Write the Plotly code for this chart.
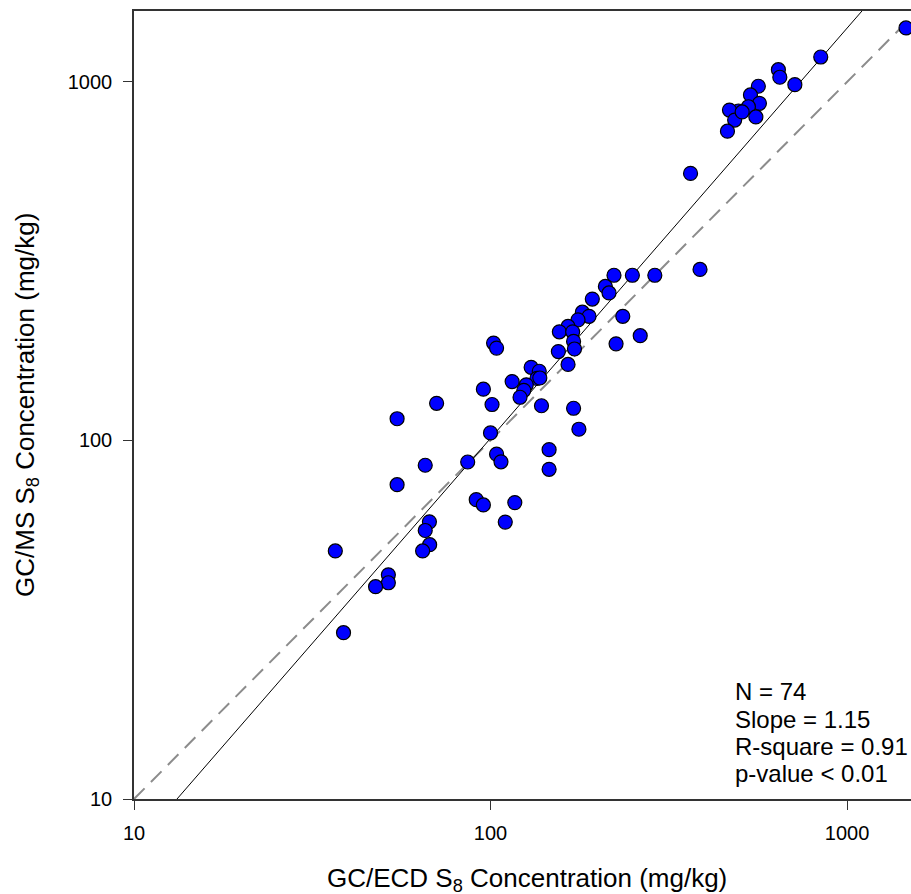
import numpy as np
import plotly.graph_objects as go

# GC/ECD (x) vs GC/MS (y) S8 concentrations, mg/kg
gc_ecd = [1464, 844, 642, 648, 714, 564, 536, 568, 529, 496, 468, 484, 555, 462, 364,
          222, 250, 289, 387, 210, 215, 193, 181, 189, 176, 165, 156, 170, 171, 172,
          155, 165, 235, 263, 225, 102, 104, 130, 137, 135, 115, 126, 124, 121, 95.5,
          101, 139, 171, 177, 70.6, 54.7, 100, 86.3, 104, 107, 146, 146, 65.6, 54.7,
          91.2, 95.5, 117, 110, 67.4, 65.6, 67.5, 64.5, 36.7, 51.7, 51.7, 47.6, 38.7,
          137.5, 508]
gc_ms = [1415, 1174, 1082, 1031, 983, 973, 920, 872, 853, 830, 835, 783, 799, 729, 556,
         289, 289, 289, 300, 269, 258, 248, 228, 222, 217, 208, 201, 201, 189, 180,
         177, 163, 222, 196, 186, 187, 181, 160, 156, 149, 146, 143, 138, 132, 139,
         126, 125, 123, 107.5, 127, 115, 105, 87.1, 91.6, 87.2, 94.3, 83.1, 85.3, 75.3,
         68.4, 66.1, 67.1, 59.2, 59.3, 56.1, 51.2, 49.2, 49.2, 42.2, 40.1, 39.1, 29.1,
         149.4, 825]

# fitted regression line in log10 space (as drawn)
fit_slope = 1.144
fit_intercept = -0.282
line_x = [10, 1600]

stats_text = ["N = 74", "Slope = 1.15", "R-square = 0.91", "p-value < 0.01"]
tick_vals = [10, 100, 1000]
tick_text = ["10", "100", "1000"]

FONT = "Liberation Sans, Arial, sans-serif"

fit_y = [10 ** (fit_intercept + fit_slope * np.log10(v)) for v in line_x]

fig = go.Figure()
fig.add_trace(go.Scatter(x=line_x, y=line_x, mode="lines",
                         line=dict(color="#8c8c8c", width=2, dash="15px,9px"),
                         showlegend=False, hoverinfo="skip"))
fig.add_trace(go.Scatter(x=line_x, y=fit_y, mode="lines",
                         line=dict(color="black", width=1),
                         showlegend=False, hoverinfo="skip"))
fig.add_trace(go.Scatter(x=gc_ecd, y=gc_ms, mode="markers",
                         marker=dict(color="#0000ff", size=14,
                                     line=dict(color="black", width=1.2)),
                         showlegend=False))

axis_common = dict(
    type="log", showgrid=False, zeroline=False,
    showline=True, linecolor="#333333", linewidth=1.5,
    ticks="outside", ticklen=9, tickwidth=1.2, tickcolor="#333333",
    tickvals=tick_vals, ticktext=tick_text,
    tickfont=dict(family=FONT, size=20, color="black"),
)

fig.update_layout(
    width=911, height=894,
    margin=dict(l=134, r=0, t=11, b=95),
    paper_bgcolor="white", plot_bgcolor="white",
    xaxis=dict(range=[1, 3.1795], mirror=True, ticklabelstandoff=6, **axis_common),
    yaxis=dict(range=[1, 3.198], ticklabelstandoff=7, **axis_common),
    font=dict(family=FONT, color="black"),
)

# axis titles
fig.add_annotation(text="GC/ECD S<sub>8</sub> Concentration (mg/kg)",
                   xref="paper", yref="paper", x=0.5058, y=-0.1025,
                   xanchor="center", yanchor="middle", showarrow=False,
                   font=dict(family=FONT, size=26, color="black"))
fig.add_annotation(text="GC/MS S<sub>8</sub> Concentration (mg/kg)",
                   xref="paper", yref="paper", x=-0.139, y=0.5,
                   xanchor="center", yanchor="middle", showarrow=False,
                   textangle=-90,
                   font=dict(family=FONT, size=26, color="black"))

# stats text
stat_y = [0.1362, 0.1003, 0.0664, 0.0326]
for t, yy in zip(stats_text, stat_y):
    fig.add_annotation(text=t, xref="paper", yref="paper", x=0.771, y=yy,
                       xanchor="left", yanchor="middle", showarrow=False,
                       font=dict(family=FONT, size=24, color="black"))

fig.write_html("out.html",
               config={"displayModeBar": False},
               post_script="document.body.style.margin='0';"
                           "document.body.style.overflow='hidden';")
